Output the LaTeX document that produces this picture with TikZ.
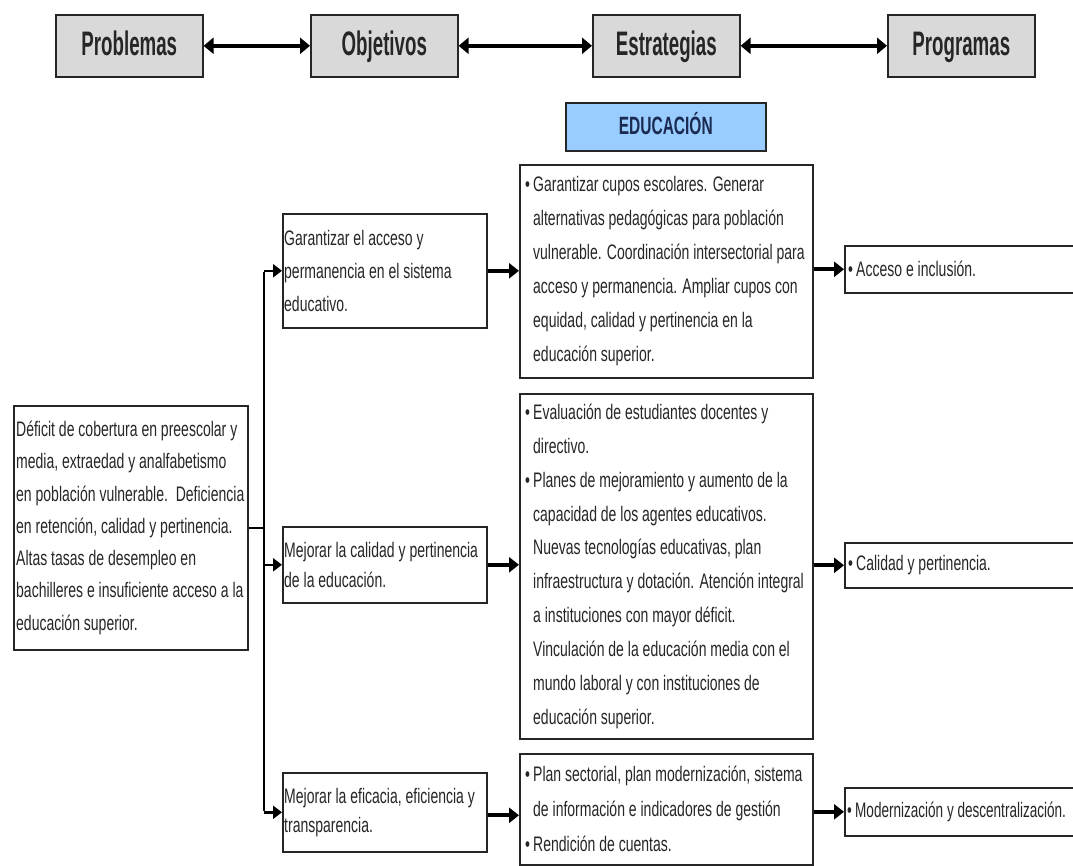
\documentclass[tikz,border=0pt]{standalone}
\usepackage{fontspec}
\setmainfont{Liberation Sans}
\newfontfamily\bodyf[FakeStretch=0.667]{Liberation Sans}
\newfontfamily\narrowf[FakeStretch=0.645]{Liberation Sans}
\newfontfamily\headf[FakeStretch=0.55]{Liberation Sans}
\newfontfamily\eduf[FakeStretch=0.62]{Liberation Sans}
\usetikzlibrary{arrows.meta}
\definecolor{hdrgray}{HTML}{D9D9D9}
\definecolor{edublue}{HTML}{99CCFF}
\definecolor{edutext}{HTML}{1A2A50}
\definecolor{txtc}{HTML}{262626}
\newcommand{\bl}{\makebox[8pt][l]{\textbullet}}
\newcommand{\ind}{\hspace*{8pt}}
\begin{document}
\begin{tikzpicture}[x=1pt,y=-1pt,
  hdr/.style={draw=black!85, line width=1.6pt, fill=hdrgray, minimum width=147pt, minimum height=62pt, inner sep=0pt, font=\headf\bfseries\fontsize{34}{34}\selectfont, text height=24pt, text depth=4pt, text=black!85, anchor=north west},
  box/.style={draw=black!85, line width=1.6pt, fill=white, inner sep=0pt, anchor=north west},
  txt/.style={anchor=west, inner sep=0pt, align=left, text=txtc, font=\bodyf\fontsize{21}{34}\selectfont},
  dbl/.style={{Triangle[length=10pt,width=16pt]}-{Triangle[length=10pt,width=16pt]}, line width=4pt, black},
  bigarr/.style={-{Triangle[length=10pt,width=15pt]}, line width=4pt, black},
  smallarr/.style={-{Triangle[length=9pt,width=13pt]}, line width=2.5pt, black},
  bus/.style={line width=2pt, black}
]
\useasboundingbox (0,0) rectangle (1073,866);
\clip (0,0) rectangle (1073,866);

% header row
\node[hdr] (hprob) at (55,14) {Problemas};
\node[hdr] (hobj) at (310,14) {Objetivos};
\node[hdr] (hest) at (592,14) {Estrategias};
\node[hdr] (hprog) at (887,14) {Programas};
\draw[dbl] (hprob.east) -- (hobj.west);
\draw[dbl] (hobj.east) -- (hest.west);
\draw[dbl] (hest.east) -- (hprog.west);

% EDUCACION
\node[box, fill=edublue, minimum width=200pt, minimum height=48pt, text=edutext, font=\eduf\bfseries\fontsize{25}{25}\selectfont, text height=18pt, text depth=2pt] (edu) at (565,102) {EDUCACIÓN};

% problem
\node[box, minimum width=234pt, minimum height=244pt] (def) at (13,405) {};
\node[txt, font=\bodyf\fontsize{21}{32.3}\selectfont] (deft) at ([xshift=3pt]def.west) {Déficit de cobertura en preescolar y\\media, extraedad y analfabetismo\\en población vulnerable.\ \ Deficiencia\\en retención, calidad y pertinencia.\\Altas tasas de desempleo en\\bachilleres e insuficiente acceso a la\\educación superior.};

% objectives
\node[box, minimum width=204pt, minimum height=114pt] (o1) at (282,213) {};
\node[txt, font=\bodyf\fontsize{21}{33}\selectfont] (o1t) at ([xshift=2pt]o1.west) {Garantizar el acceso y\\permanencia en el sistema\\educativo.};
\node[box, minimum width=204pt, minimum height=76pt] (o2) at (282,526) {};
\node[txt, font=\bodyf\fontsize{21}{30}\selectfont] (o2t) at ([xshift=2pt]o2.west) {Mejorar la calidad y pertinencia\\de la educación.};
\node[box, minimum width=204pt, minimum height=79pt] (o3) at (282,772) {};
\node[txt, font=\bodyf\fontsize{21}{29}\selectfont] (o3t) at ([xshift=2pt]o3.west) {Mejorar la eficacia, eficiencia y\\transparencia.};

% strategies
\node[box, minimum width=293pt, minimum height=213pt] (s1) at (519,164) {};
\node[txt, font=\bodyf\fontsize{21}{34}\selectfont] (s1t) at ([xshift=6pt]s1.west) {\bl Garantizar cupos escolares. Generar\\\ind alternativas pedagógicas para población\\\ind vulnerable. Coordinación intersectorial para\\\ind acceso y permanencia. Ampliar cupos con\\\ind equidad, calidad y pertinencia en la\\\ind educación superior.};
\node[box, minimum width=293pt, minimum height=345pt] (s2) at (519,393) {};
\node[txt, font=\bodyf\fontsize{21}{33.9}\selectfont] (s2t) at ([xshift=6pt]s2.west) {\bl Evaluación de estudiantes docentes y\\\ind directivo.\\\bl Planes de mejoramiento y aumento de la\\\ind capacidad de los agentes educativos.\\\ind Nuevas tecnologías educativas, plan\\\ind infraestructura y dotación. Atención integral\\\ind a instituciones con mayor déficit.\\\ind Vinculación de la educación media con el\\\ind mundo laboral y con instituciones de\\\ind educación superior.};
\node[box, minimum width=293pt, minimum height=111pt] (s3) at (519,753) {};
\node[txt, font=\bodyf\fontsize{21}{35}\selectfont] (s3t) at ([xshift=6pt]s3.west) {\bl Plan sectorial, plan modernización, sistema\\\ind de información e indicadores de gestión\\\bl Rendición de cuentas.};

% programs
\node[box, minimum width=240pt, minimum height=47pt] (p1) at (844,245) {};
\node[txt] (p1t) at ([xshift=4pt]p1.west) {\bl Acceso e inclusión.};
\node[box, minimum width=240pt, minimum height=45pt] (p2) at (844,542) {};
\node[txt] (p2t) at ([xshift=4pt]p2.west) {\bl Calidad y pertinencia.};
\node[box, minimum width=240pt, minimum height=48pt] (p3) at (844,787) {};
\node[txt, font=\narrowf\fontsize{21}{34}\selectfont] (p3t) at ([xshift=3pt]p3.west) {\bl Modernización y descentralización.};

% bus
\coordinate (bx) at (264,0);
\draw[line width=2.5pt] (def.east) -- (def.east -| bx);
\draw[bus] ([yshift=-1pt]bx |- o1.west) -- ([yshift=1pt]bx |- o3.west);
\draw[smallarr] (bx |- o1.west) -- (o1.west);
\draw[smallarr] (bx |- o2.west) -- (o2.west);
\draw[smallarr] (bx |- o3.west) -- (o3.west);

% objective -> strategy
\draw[bigarr] (o1.east) -- (o1.east -| s1.west);
\draw[bigarr] (o2.east) -- (o2.east -| s2.west);
\draw[bigarr] ([yshift=-3pt]o3.east) -- ([yshift=-3pt]o3.east -| s3.west);

% strategy -> program
\draw[bigarr] (s1.east |- p1.west) -- (p1.west);
\draw[bigarr] (s2.east |- p2.west) -- (p2.west);
\draw[bigarr] (s3.east |- p3.west) -- (p3.west);
\end{tikzpicture}
\end{document}
